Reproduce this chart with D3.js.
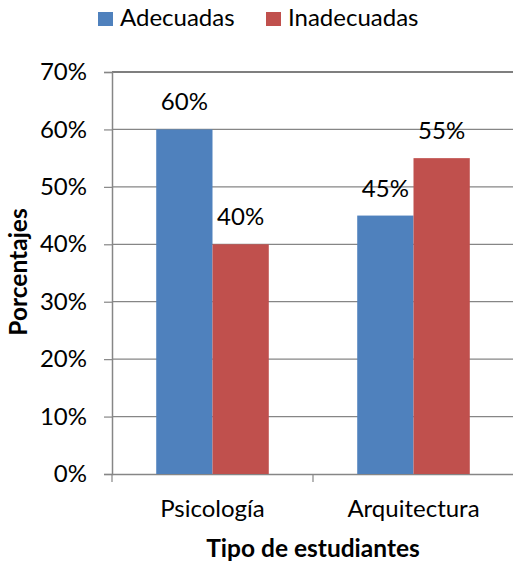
<!DOCTYPE html>
<html>
<head>
<meta charset="utf-8">
<script src="https://cdn.jsdelivr.net/npm/d3@7"></script>
<style>
  body { margin: 0; background: #fff; }
  svg { font-family: Lato, sans-serif; }
</style>
</head>
<body>
<div id="chart"></div>
<script>
// chart data
const categories = ["Psicología", "Arquitectura"];
const seriesNames = ["Adecuadas", "Inadecuadas"];
const adecuadas = [0.60, 0.45];
const inadecuadas = [0.40, 0.55];
const yTicks = [0, 0.1, 0.2, 0.3, 0.4, 0.5, 0.6, 0.7];
const colors = ["#4F81BD", "#C0504D"];

const width = 513, height = 565;
const plot = { left: 112, right: 514, top: 72, bottom: 474 };
const fontSize = 24;

const svg = d3.select("#chart").append("svg")
    .attr("width", width)
    .attr("height", height);

const x = d3.scaleBand()
    .domain(categories)
    .range([plot.left, plot.right])
    .paddingInner(0.44)
    .paddingOuter(0.22);

const x1 = d3.scaleBand()
    .domain(seriesNames)
    .range([0, x.bandwidth()]);

const y = d3.scaleLinear()
    .domain([0, 0.7])
    .range([plot.bottom, plot.top]);

// gridlines
svg.append("g")
    .selectAll("line")
    .data(yTicks.filter(d => d > 0))
    .enter().append("line")
    .attr("x1", plot.left)
    .attr("x2", plot.right)
    .attr("y1", d => y(d))
    .attr("y2", d => y(d))
    .attr("stroke", d => d === 0.7 ? "#000" : "#868686")
    .attr("stroke-width", 1.2);

// y axis
const yAxis = svg.append("g")
    .attr("transform", `translate(${plot.left},0)`)
    .call(d3.axisLeft(y).tickValues(yTicks).tickFormat(d3.format(".0%")).tickSize(8).tickPadding(17));
yAxis.select(".domain").attr("stroke", "#868686").attr("stroke-width", 1.5);
yAxis.selectAll(".tick line").attr("stroke", "#868686").attr("stroke-width", 1.2);
yAxis.selectAll("text")
    .attr("font-family", "Lato, sans-serif")
    .attr("font-size", fontSize)
    .attr("fill", "#000");

// x axis
const xAxis = svg.append("g")
    .attr("transform", `translate(0,${plot.bottom})`)
    .call(d3.axisBottom(x).tickSize(0).tickPadding(0));
xAxis.select(".domain").attr("stroke", "#868686").attr("stroke-width", 1.5);
xAxis.selectAll("text")
    .attr("font-family", "Lato, sans-serif")
    .attr("font-size", fontSize)
    .attr("fill", "#000")
    .attr("dy", null)
    .attr("y", 43);

// category separators
const step = x.step();
svg.append("g")
    .selectAll("line")
    .data(d3.range(categories.length + 1))
    .enter().append("line")
    .attr("x1", i => plot.left + i * step)
    .attr("x2", i => plot.left + i * step)
    .attr("y1", plot.bottom)
    .attr("y2", plot.bottom + 8)
    .attr("stroke", "#868686")
    .attr("stroke-width", 1.2);

// bars
const data = categories.map((c, i) => ({ cat: c, values: [adecuadas[i], inadecuadas[i]] }));

const groups = svg.append("g")
    .selectAll("g")
    .data(data)
    .enter().append("g")
    .attr("transform", d => `translate(${x(d.cat)},0)`);

groups.selectAll("rect")
    .data(d => d.values.map((v, j) => ({ name: seriesNames[j], value: v, j })))
    .enter().append("rect")
    .attr("x", d => x1(d.name))
    .attr("y", d => y(d.value))
    .attr("width", x1.bandwidth())
    .attr("height", d => y(0) - y(d.value))
    .attr("fill", d => colors[d.j]);

groups.selectAll("text")
    .data(d => d.values.map((v, j) => ({ name: seriesNames[j], value: v })))
    .enter().append("text")
    .attr("x", d => x1(d.name) + x1.bandwidth() / 2)
    .attr("y", d => y(d.value) - 19)
    .attr("text-anchor", "middle")
    .attr("font-size", fontSize)
    .text(d => d3.format(".0%")(d.value));

// legend
const legendPos = [98, 266];
const legend = svg.append("g")
    .selectAll("g")
    .data(seriesNames)
    .enter().append("g")
    .attr("transform", (d, i) => `translate(${legendPos[i]},12)`);

legend.append("rect")
    .attr("width", 15)
    .attr("height", 14)
    .attr("fill", (d, i) => colors[i]);

legend.append("text")
    .attr("x", 22)
    .attr("y", 14)
    .attr("font-size", fontSize)
    .text(d => d);

// axis titles
svg.append("text")
    .attr("transform", "translate(27,272) rotate(-90)")
    .attr("text-anchor", "middle")
    .attr("font-size", 24.5)
    .attr("font-weight", "bold")
    .text("Porcentajes");

svg.append("text")
    .attr("x", 313)
    .attr("y", 557)
    .attr("text-anchor", "middle")
    .attr("font-size", 24.5)
    .attr("font-weight", "bold")
    .text("Tipo de estudiantes");
</script>
</body>
</html>
